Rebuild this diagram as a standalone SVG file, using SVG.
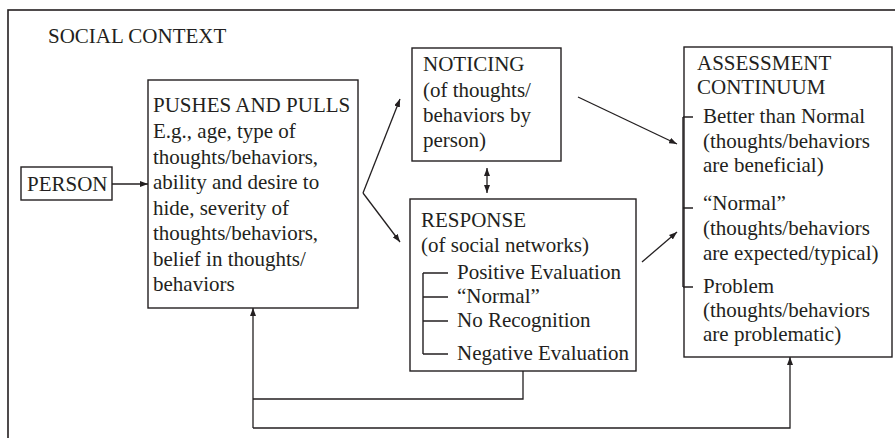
<svg xmlns="http://www.w3.org/2000/svg" width="895" height="438" viewBox="0 0 895 438">
  <style>
    .box { fill: #ffffff; stroke: #231f20; stroke-width: 1.4; }
    .frame { fill: none; stroke: #231f20; stroke-width: 1.6; }
    .txt { font-family: "Liberation Serif", "Times New Roman", serif; font-size: 21px; fill: #231f20; }
    .line { fill: none; stroke: #231f20; stroke-width: 1.3; }
    .arrow { fill: none; stroke: #231f20; stroke-width: 1.3; marker-end: url(#head); }
    .brace { fill: none; stroke: #231f20; stroke-width: 1.4; }
  </style>
  <defs>
    <marker id="head" viewBox="0 0 8 6" refX="8" refY="3" markerWidth="8" markerHeight="6" markerUnits="userSpaceOnUse" orient="auto-start-reverse">
      <path d="M0,0 L8,3 L0,6 z" fill="#231f20"/>
    </marker>
  </defs>

  <rect width="895" height="438" fill="#ffffff"/>

  <!-- social context frame (runs past the right and bottom edges) -->
  <g id="social-context">
    <rect class="frame" x="8" y="10" width="900" height="440"/>
    <text class="txt" x="48" y="43">SOCIAL CONTEXT</text>
  </g>

  <g id="person">
    <rect class="box" x="21" y="167" width="91" height="33"/>
    <text class="txt" x="27" y="191">PERSON</text>
  </g>

  <g id="pushes-and-pulls">
    <rect class="box" x="148" y="80" width="210" height="228"/>
    <text class="txt" x="153" y="112">PUSHES AND PULLS</text>
    <text class="txt" x="153" y="138">E.g., age, type of</text>
    <text class="txt" x="153" y="163.5">thoughts/behaviors,</text>
    <text class="txt" x="153" y="189">ability and desire to</text>
    <text class="txt" x="153" y="214.5">hide, severity of</text>
    <text class="txt" x="153" y="240">thoughts/behaviors,</text>
    <text class="txt" x="153" y="265.5">belief in thoughts/</text>
    <text class="txt" x="153" y="291">behaviors</text>
  </g>

  <g id="noticing">
    <rect class="box" x="412" y="48" width="149" height="113"/>
    <text class="txt" x="423" y="71">NOTICING</text>
    <text class="txt" x="423" y="96.5">(of thoughts/</text>
    <text class="txt" x="423" y="122">behaviors by</text>
    <text class="txt" x="423" y="147">person)</text>
  </g>

  <g id="response">
    <rect class="box" x="410" y="199" width="226" height="172"/>
    <text class="txt" x="421" y="227">RESPONSE</text>
    <text class="txt" x="421" y="252">(of social networks)</text>
    <path class="brace" d="M423,273 V354 M423,273 H448 M423,297 H448 M423,321 H448 M423,354 H448"/>
    <text class="txt" x="457" y="279">Positive Evaluation</text>
    <text class="txt" x="457" y="303">“Normal”</text>
    <text class="txt" x="457" y="327">No Recognition</text>
    <text class="txt" x="457" y="360">Negative Evaluation</text>
  </g>

  <g id="assessment-continuum">
    <rect class="box" x="684" y="47" width="208" height="310"/>
    <text class="txt" x="697" y="70">ASSESSMENT</text>
    <text class="txt" x="697" y="94">CONTINUUM</text>
    <path class="brace" d="M683,117 V287" stroke-width="2.6"/>
    <path class="brace" d="M683,117 H693 M683,208 H693 M683,287 H693"/>
    <text class="txt" x="703" y="123">Better than Normal</text>
    <text class="txt" x="703" y="148">(thoughts/behaviors</text>
    <text class="txt" x="703" y="172">are beneficial)</text>
    <text class="txt" x="703" y="210">“Normal”</text>
    <text class="txt" x="703" y="235">(thoughts/behaviors</text>
    <text class="txt" x="703" y="260">are expected/typical)</text>
    <text class="txt" x="703" y="293">Problem</text>
    <text class="txt" x="703" y="317">(thoughts/behaviors</text>
    <text class="txt" x="703" y="341">are problematic)</text>
  </g>

  <g id="connectors">
    <path class="arrow" d="M112,184 H148"/>
    <path class="arrow" d="M363,193 L400,99"/>
    <path class="arrow" d="M363,193 L400,242"/>
    <path class="arrow" d="M487,168 V193" marker-start="url(#head)"/>
    <path class="arrow" d="M578,97 L677,144"/>
    <path class="arrow" d="M642,262 L677,232"/>
    <path class="line" d="M523,371 V399 H253"/>
    <path class="arrow" d="M253,428 V308"/>
    <path class="arrow" d="M253,428 H790 V357"/>
  </g>
</svg>
